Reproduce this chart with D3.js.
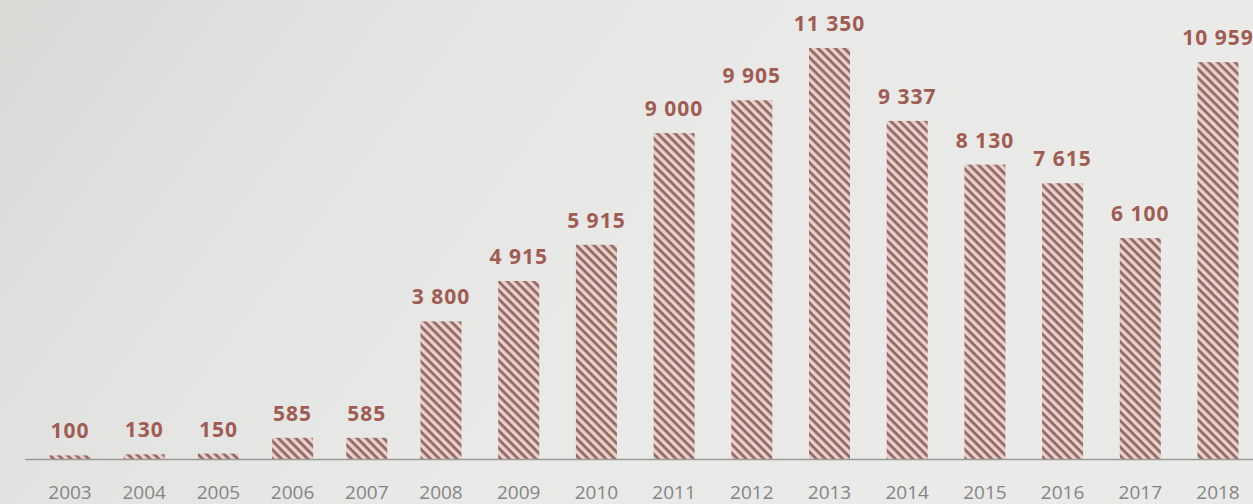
<!DOCTYPE html>
<html>
<head>
<meta charset="utf-8">
<script src="https://cdn.jsdelivr.net/npm/d3@7"></script>
<style>
  html, body { margin: 0; padding: 0; overflow: hidden; }
  body { width: 1253px; height: 504px; }
  svg { display: block; }
</style>
</head>
<body>
<svg id="chart" width="1253" height="504"></svg>
<script>
// Annual totals, 2003–2018
const years = ["2003","2004","2005","2006","2007","2008","2009","2010","2011","2012","2013","2014","2015","2016","2017","2018"];
const values = [100, 130, 150, 585, 585, 3800, 4915, 5915, 9000, 9905, 11350, 9337, 8130, 7615, 6100, 10959];

const W = 1253, H = 504;
const baseY = 459;
const barW = 41;

const svg = d3.select("#chart");
const defs = svg.append("defs");

// Soft background shading, darker on the left
const bg = defs.append("linearGradient").attr("id", "bg").attr("x1", 0).attr("x2", 1).attr("y1", 0).attr("y2", 0.3);
bg.append("stop").attr("offset", 0).attr("stop-color", "#d8d9d5");
bg.append("stop").attr("offset", 0.3).attr("stop-color", "#e3e4e1");
bg.append("stop").attr("offset", 0.6).attr("stop-color", "#e9e9e7");
bg.append("stop").attr("offset", 1).attr("stop-color", "#eaeae8");
svg.append("rect").attr("width", W).attr("height", H).attr("fill", "url(#bg)");

// Diagonal hatch for bars
const pat = defs.append("pattern")
  .attr("id", "hatch")
  .attr("patternUnits", "userSpaceOnUse")
  .attr("width", 6.2).attr("height", 6.2)
  .attr("patternTransform", "rotate(45)");
pat.append("rect").attr("width", 6.2).attr("height", 6.2).attr("fill", "#f1cfc9");
pat.append("rect").attr("width", 6.2).attr("height", 2.9).attr("fill", "#8d6e6a");

// Category positions (piecewise to follow the slightly widening spacing)
const x = d3.scaleLinear().domain([0, 5, 15]).range([70, 441, 1218]);
const y = d3.scaleLinear().domain([0, 11350]).range([baseY, 48]);

const fmt = d3.formatLocale({ decimal: ".", thousands: " ", grouping: [3], currency: ["", ""] }).format(",d");

// Bars
svg.append("g").selectAll("rect")
  .data(values)
  .join("rect")
  .attr("x", (d, i) => x(i) - barW / 2)
  .attr("y", d => y(d))
  .attr("width", barW)
  .attr("height", d => baseY - y(d))
  .attr("fill", "url(#hatch)");

// Baseline
svg.append("line")
  .attr("x1", 25).attr("x2", W)
  .attr("y1", baseY + 0.5).attr("y2", baseY + 0.5)
  .attr("stroke", "#9a9a98").attr("stroke-width", 1.5);

// Value labels
svg.append("g").selectAll("text")
  .data(values)
  .join("text")
  .attr("x", (d, i) => x(i))
  .attr("y", d => y(d) - 17)
  .attr("text-anchor", "middle")
  .attr("font-family", "'Open Sans', sans-serif")
  .attr("font-weight", 700)
  .attr("font-size", 21)
  .attr("letter-spacing", 1)
  .attr("fill", "#a05c52")
  .text(d => fmt(d));

// Year labels
svg.append("g").selectAll("text")
  .data(years)
  .join("text")
  .attr("x", (d, i) => x(i))
  .attr("y", 499)
  .attr("text-anchor", "middle")
  .attr("font-family", "'Open Sans', sans-serif")
  .attr("font-weight", 500)
  .attr("font-size", 19)
  .attr("fill", "#858585")
  .text(d => d);
</script>
</body>
</html>
